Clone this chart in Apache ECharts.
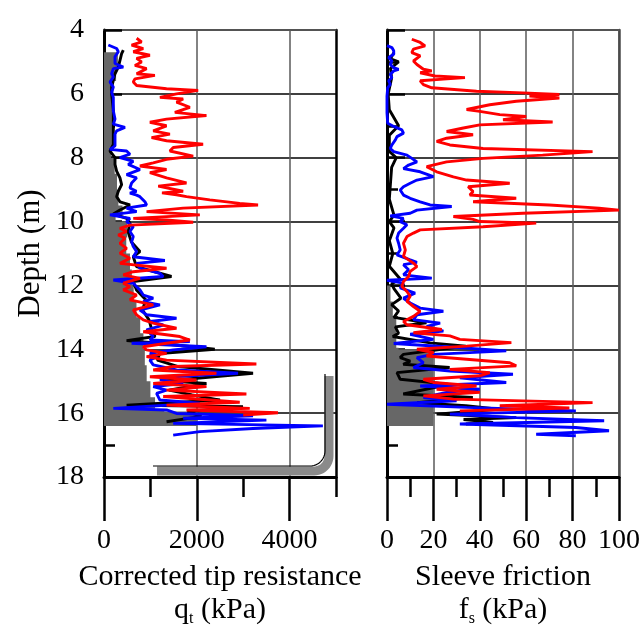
<!DOCTYPE html>
<html><head><meta charset="utf-8">
<script src="https://cdn.jsdelivr.net/npm/echarts@6/dist/echarts.min.js"></script>
<style>html,body{margin:0;padding:0;background:#fff}#c{width:644px;height:632px}</style>
</head><body><div id="c"></div>
<script>
// ---------- Data (depth in m, values in kPa) ----------
const depthTicks = [4, 6, 8, 10, 12, 14, 16, 18];
const qtTickLabels = [0, 2000, 4000];
const fsTickLabels = [0, 20, 40, 60, 80, 100];

// Corrected tip resistance qt - red
const qtRedDepth = [4.26,4.37,4.47,4.58,4.68,4.79,4.89,5.00,5.11,5.21,5.37,5.42,5.53,5.63,5.74,5.84,5.89,6.00,6.11,6.16,6.26,6.42,6.58,6.68,6.79,6.89,7.00,7.16,7.26,7.37,7.47,7.58,7.68,7.79,7.95,8.05,8.16,8.26,8.37,8.47,8.63,8.79,8.89,9.05,9.10,9.16,9.22,9.32,9.43,9.48,9.58,9.69,9.79,9.90,9.95,10.02,10.11,10.21,10.31,10.42,10.52,10.68,10.84,10.99,11.15,11.31,11.46,11.57,11.67,11.78,11.93,12.04,12.14,12.30,12.45,12.61,12.77,12.92,13.08,13.18,13.34,13.45,13.60,13.71,13.81,13.92,14.02,14.13,14.23,14.34,14.46,14.54,14.65,14.75,14.86,14.96,15.07,15.17,15.28,15.40,15.48,15.59,15.66,15.75,15.85,15.90,15.99,16.06];
const qtRed = [703,810,595,846,631,989,703,810,667,918,703,1097,667,631,703,1348,2029,1563,1205,1706,1563,1850,1527,2208,1348,989,1348,1061,1420,1025,1348,2136,1492,1420,1922,1348,1061,774,1348,989,1348,1778,1169,1706,1250,1563,1778,2280,2925,3320,1706,918,2065,631,1348,1922,559,344,487,308,452,344,487,344,559,344,1348,631,416,774,416,559,416,703,559,1061,631,703,846,1061,1563,846,1635,1850,1348,846,918,1348,918,1348,3284,1491,1061,2423,989,1993,1061,2208,1348,3069,1276,2280,2925,1348,3141,1778,3750,3000];

// qt - blue
const qtBlueDepth = [4.47,4.58,4.68,4.84,5.05,5.16,5.21,5.37,5.47,5.63,5.79,5.95,6.11,6.32,6.53,6.79,6.95,7.05,7.16,7.26,7.47,7.63,7.74,7.79,7.89,8.00,8.11,8.21,8.37,8.53,8.63,8.79,8.95,9.05,9.11,9.17,9.22,9.38,9.48,9.58,9.69,9.79,9.90,10.00,10.16,10.31,10.47,10.63,10.78,10.94,11.10,11.22,11.31,11.46,11.62,11.72,11.83,11.93,12.04,12.14,12.30,12.40,12.51,12.61,12.77,12.92,13.03,13.13,13.24,13.39,13.60,13.71,13.76,13.81,13.92,14.02,14.13,14.23,14.34,14.49,14.65,14.75,14.86,14.96,15.07,15.17,15.28,15.38,15.59,15.69,15.85,15.90,16.01,16.08,16.16,16.22,16.32,16.40,16.48,16.58,16.69];
const qtBlue = [93,272,308,237,237,416,201,165,201,129,201,165,201,201,201,237,201,452,272,237,237,237,129,487,559,344,631,523,774,487,703,595,559,700,559,703,774,882,918,487,703,129,559,487,631,559,631,595,631,703,631,1312,703,774,1205,1276,201,631,703,774,846,1061,846,1205,774,918,1563,989,1276,918,1061,989,1850,595,2208,1491,989,1133,989,1061,1563,2889,1491,1205,1706,1061,1348,1133,1205,2065,201,1348,1563,3212,1706,3500,1491,4717,3212,2065,1491];

// qt - black
const qtBlackDepth = [4.63,4.74,4.95,5.16,5.37,5.58,5.79,6.00,6.53,7.05,7.58,7.79,8.00,8.21,8.42,8.63,8.84,9.05,9.22,9.38,9.48,9.64,9.76,9.90,10.05,10.32,10.64,10.94,11.10,11.41,11.72,11.88,12.14,12.45,12.77,13.08,13.39,13.60,13.73,13.81,14.00,14.13,14.34,14.54,14.75,14.90,14.98,15.07,15.28,15.43,15.59,15.75,15.80,15.95,16.10,16.27];
const qtBlack = [416,380,344,308,237,201,165,165,201,201,201,129,237,237,272,344,380,308,272,344,559,344,201,487,559,520,590,774,631,700,1455,631,700,900,830,970,1030,1100,487,1200,2387,1200,1150,1600,3212,2065,1300,2208,1400,1900,2500,487,2996,1800,2100,1348];

// qt - grey shaded zone
const qtShadeDepth = [4.70,5.20,5.60,6.00,6.50,7.00,7.60,7.80,8.00,8.50,9.00,9.50,9.80,10.00,10.50,11.00,11.50,12.00,12.50,13.00,13.50,14.00,14.50,15.00,15.50,15.90,15.95,16.40];
const qtShade = [300,260,200,170,190,200,190,150,230,280,310,400,250,500,480,560,600,640,700,780,850,880,920,1000,1100,1300,2000,2000];

// Sleeve friction fs - red
const fsRedDepth = [4.29,4.39,4.50,4.60,4.71,4.81,4.97,5.08,5.23,5.28,5.34,5.44,5.49,5.54,5.59,5.71,5.81,5.92,5.97,6.02,6.07,6.13,6.23,6.34,6.49,6.55,6.65,6.71,6.81,6.88,6.97,7.07,7.18,7.28,7.39,7.49,7.60,7.71,7.81,7.92,8.02,8.13,8.28,8.44,8.60,8.70,8.80,8.91,9.06,9.17,9.27,9.38,9.48,9.58,9.64,9.74,9.84,9.93,10.00,10.05,10.16,10.26,10.36,10.47,10.68,10.89,11.09,11.30,11.41,11.56,11.72,11.88,12.03,12.19,12.34,12.50,12.66,12.81,12.97,13.13,13.23,13.38,13.48,13.58,13.69,13.79,13.90,14.00,14.10,14.21,14.31,14.42,14.52,14.63,14.73,14.83,14.94,15.04,15.15,15.25,15.35,15.46,15.56,15.67,15.77,15.84,15.93];
const fsRed = [10.7,14.3,16.4,11.4,10.7,14.3,11.4,12.9,15.7,19.3,14.3,20.7,33.6,24.3,14.3,15.7,19.3,38.6,58.6,74.3,61.4,74.3,55.7,44.3,34.3,40,48.6,60,50,71.4,40,32.9,25.7,37.1,25.7,21.4,27.1,41.4,88.6,67.1,41.4,25.7,17.1,21.4,28.6,34.3,52.9,35,37.1,35.7,55.7,37.1,70,91.4,100,58.6,28.6,37.1,40,64.3,41.4,14.3,11.4,8.6,7.1,7.9,7.1,11.4,12.9,10,9.3,7.1,6.4,8.6,10,8.6,11.4,14.3,11.4,7.1,8.6,23.6,11.4,27.1,31.4,53.6,34.3,12.9,20,17.1,34.3,52.9,55.7,27.1,44.3,40,15.7,20,38.6,21.4,40,15.7,28.6,88.6,48.6,78.6,31.4];

// fs - blue
const fsBlueDepth = [4.49,4.55,4.65,4.76,4.86,4.97,5.08,5.18,5.23,5.28,5.39,5.49,5.59,5.70,5.81,6.07,6.60,6.92,7.02,7.13,7.23,7.34,7.44,7.60,7.71,7.81,7.92,8.02,8.13,8.23,8.34,8.44,8.59,8.70,8.80,8.91,9.01,9.17,9.27,9.38,9.48,9.53,9.64,9.74,9.82,9.90,10.00,10.10,10.21,10.36,10.52,10.68,10.89,11.04,11.20,11.28,11.35,11.51,11.67,11.77,11.84,11.93,12.08,12.24,12.40,12.55,12.71,12.81,12.92,13.07,13.18,13.28,13.43,13.53,13.69,13.82,13.93,14.05,14.16,14.26,14.42,14.57,14.68,14.78,14.89,15.04,15.15,15.25,15.35,15.51,15.61,15.72,15.82,15.93,16.03,16.14,16.24,16.34,16.45,16.55,16.66,16.71];
const fsBlue = [0,2.1,2.9,2.9,0.7,2.1,1.4,2.9,5,2.9,1.4,2.1,0.7,1.4,0.3,0,0,0.3,2.9,6.4,7.1,4.3,3.6,2.1,1.4,2.9,8.6,10.7,12.9,9.3,7.1,14.3,20,12.9,10,7.1,5.7,7.1,10,14.3,18.6,27.9,12.9,10,1.4,7.1,5.7,8.6,7.1,5,4.3,5,5.7,4.3,10,12.9,7.1,9.3,7.1,19.3,0,7.1,5.7,12.1,7.1,10,14.3,24.3,12.9,11.4,22.9,17.1,24.3,10,20,2.9,27.1,51.4,20,12.9,15.7,11.4,27.1,54.3,31.4,51.4,14.3,40,25.7,15.7,30,0,34.3,81.4,27.1,55.7,93.6,31.4,81.4,95.7,64.3,81.4];

// fs - black
const fsBlackDepth = [4.70,4.90,5.00,5.20,5.50,6.00,6.50,7.00,7.30,7.80,8.00,8.30,8.80,9.30,9.80,10.00,10.20,10.60,11.00,11.40,11.80,11.95,12.10,12.40,12.60,12.80,13.00,13.17,13.30,13.50,13.60,13.80,13.90,14.16,14.26,14.37,14.47,14.57,14.73,14.94,15.10,15.40,15.51,15.67,15.77,15.88,16.03,16.14,16.20,16.29,16.34];
const fsBlack = [3,1.5,5,1.5,2,0.5,1,5,1,1,4,2,1.5,1,3,1,3,1,2.5,1,5.7,2,3,6,2,5,3,17,3.6,5,2.5,18.6,34,7,5.7,10,7,27,4.3,5.7,27,7,37,13,34,48,21.4,55.7,33,45.7,34];

// fs - grey shaded zone
const fsShadeDepth = [12.00,12.50,13.00,13.50,13.95,14.00,16.40];
const fsShade = [1.5,2.5,4,4,5,20,20];

// ---------- Chart ----------
const F = 'Liberation Serif, "Times New Roman", serif';
const pairs = (v, d) => v.map((x, i) => [x, d[i]]);
const plain = v => String(v);

function lineSeries(xi, yi, v, d, color, z) {
  return { type: 'line', xAxisIndex: xi, yAxisIndex: yi, data: pairs(v, d),
    showSymbol: false, symbol: 'none', z: z, silent: true, clip: true,
    lineStyle: { color: color, width: 2.9 } };
}
function shadeSeries(xi, yi, v, d) {
  return { type: 'custom', xAxisIndex: xi, yAxisIndex: yi, z: 1, silent: true, clip: true,
    data: [[v[0], d[0]]],
    renderItem: function (params, api) {
      const pts = [api.coord([0, d[0]])];
      for (let i = 0; i < v.length; i++) {
        if (i > 0) pts.push(api.coord([v[i - 1], d[i]]));
        pts.push(api.coord([v[i], d[i]]));
      }
      pts.push(api.coord([0, d[d.length - 1]]));
      return { type: 'polygon', shape: { points: pts }, style: { fill: '#676767', stroke: null } };
    } };
}

function xAxes(grid, max, minorInt, majorInt, labels, name) {
  return [
    { gridIndex: grid, type: 'value', min: 0, max: max, interval: minorInt, position: 'bottom',
      axisLine: { onZero: false, lineStyle: { color: '#000', width: 3 } },
      axisTick: { length: 20, lineStyle: { color: '#000', width: 2.5 } },
      axisLabel: { customValues: labels, formatter: plain, margin: 50, fontSize: 28, fontFamily: F, color: '#000',
        showMinLabel: true, showMaxLabel: true, hideOverlap: false },
      splitLine: { show: false },
      name: name, nameLocation: 'middle', nameGap: 84, nameMoveOverlap: false,
      nameTextStyle: { lineHeight: 33, rich: {
        a: { fontSize: 30, fontFamily: F, color: '#000', lineHeight: 33 },
        s: { fontSize: 16, fontFamily: F, color: '#000', lineHeight: 33, verticalAlign: 'bottom', padding: [10, 0, 0, 0] } } } },
    { gridIndex: grid, type: 'value', min: 0, max: max, interval: majorInt, position: 'bottom',
      axisLine: { show: false, onZero: false },
      axisTick: { customValues: labels, length: 44, lineStyle: { color: '#000', width: 2.5 } },
      axisLabel: { show: false },
      splitLine: { show: true, lineStyle: { color: '#5a5a5a', width: 1.5 } } },
    { gridIndex: grid, type: 'value', min: 0, max: max, position: 'top',
      axisLine: { onZero: false, lineStyle: { color: '#5a5a5a', width: 1.5 } },
      axisTick: { show: false }, axisLabel: { show: false }, splitLine: { show: false } }
  ];
}
function yAxes(grid, withLabels, rightColor) {
  const main = { gridIndex: grid, type: 'value', min: 4, max: 18, interval: 2, inverse: true, position: 'left',
    axisLine: { onZero: false, lineStyle: { color: '#000', width: 3 } },
    axisTick: { inside: true, length: 18, lineStyle: { color: '#000', width: 2.5 } },
    axisLabel: { show: withLabels, margin: 20, fontSize: 28, fontFamily: F, color: '#000',
      showMinLabel: true, showMaxLabel: true, hideOverlap: false, formatter: plain,
      customValues: depthTicks, padding: [0, 0, 6, 0] },
    splitLine: { show: true, lineStyle: { color: '#000', width: 1.5 } } };
  if (withLabels) {
    main.name = 'Depth (m)';
    main.nameLocation = 'middle';
    main.nameGap = 58;
    main.nameMoveOverlap = false;
    main.nameTextStyle = { fontSize: 31, fontFamily: F, color: '#000' };
  }
  return [
    main,
    { gridIndex: grid, type: 'value', min: 4, max: 18, interval: 1, inverse: true, position: 'left',
      axisLine: { show: false, onZero: false },
      axisTick: { inside: true, length: 11, lineStyle: { color: '#000', width: 2.5 } },
      axisLabel: { show: false }, splitLine: { show: false } },
    { gridIndex: grid, type: 'value', min: 4, max: 18, inverse: true, position: 'right',
      axisLine: { onZero: false, lineStyle: { color: rightColor, width: 2.5 } },
      axisTick: { show: false }, axisLabel: { show: false }, splitLine: { show: false } }
  ];
}

// decorative rounded bracket with shadow (left panel)
function bracketPts(x, yTop, yBot, xLeft, r) {
  const p = [[x, yTop], [x, yBot - r]];
  for (let k = 1; k <= 12; k++) {
    const a = (Math.PI / 2) * k / 12;
    p.push([x - r + r * Math.cos(a), yBot - r + r * Math.sin(a)]);
  }
  p.push([xLeft, yBot]);
  return p;
}

const chart = echarts.init(document.getElementById('c'), null, { renderer: 'canvas' });
chart.setOption({
  animation: false,
  backgroundColor: '#fff',
  grid: [
    { left: 104, top: 30, width: 232, height: 447, containLabel: false, outerBoundsMode: 'none' },
    { left: 387, top: 30, width: 232, height: 447, containLabel: false, outerBoundsMode: 'none' }
  ],
  xAxis: [].concat(
    xAxes(0, 5000, 1000, 2000, qtTickLabels, '{a|Corrected tip resistance}\n{a|q}{s|t}{a| (kPa)}'),
    xAxes(1, 100, 10, 20, fsTickLabels, '{a|Sleeve friction}\n{a|f}{s|s}{a| (kPa)}')
  ),
  yAxis: [].concat(yAxes(0, true, '#000'), yAxes(1, false, '#4a4a4a')),
  graphic: [
    { type: 'polyline', z: 50, silent: true,
      shape: { points: bracketPts(329, 376, 471, 157, 15) },
      style: { stroke: '#8a8a8a', lineWidth: 9, fill: null } },
    { type: 'polyline', z: 51, silent: true,
      shape: { points: bracketPts(325, 374, 466, 153, 15) },
      style: { stroke: '#000', lineWidth: 1.2, fill: null } }
  ],
  series: [
    shadeSeries(0, 0, qtShade, qtShadeDepth),
    lineSeries(0, 0, qtBlack, qtBlackDepth, '#000', 3),
    lineSeries(0, 0, qtBlue, qtBlueDepth, '#0000ff', 4),
    lineSeries(0, 0, qtRed, qtRedDepth, '#ff0000', 5),
    shadeSeries(3, 3, fsShade, fsShadeDepth),
    lineSeries(3, 3, fsBlack, fsBlackDepth, '#000', 3),
    lineSeries(3, 3, fsBlue, fsBlueDepth, '#0000ff', 4),
    lineSeries(3, 3, fsRed, fsRedDepth, '#ff0000', 5)
  ]
});
</script></body></html>
